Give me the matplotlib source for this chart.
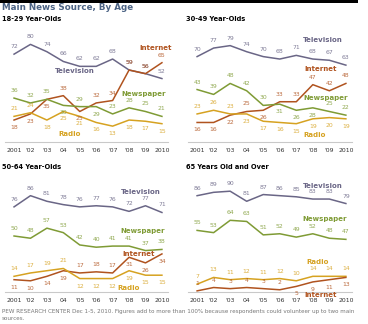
import matplotlib
matplotlib.use("Agg")
import matplotlib.pyplot as plt
from matplotlib.patches import Rectangle

years = [2001, 2002, 2003, 2004, 2005, 2006, 2007, 2008, 2009, 2010]
year_labels = ["2001", "'02", "'03", "04", "'05", "'06", "'07", "'08", "'09", "2010"]

# 18-29
tv_1829 = [72, 80, 74, 66, 62, 62, 68, 59, 56, 52]
net_1829 = [18, 23, 35, 38, 25, 32, 34, 59, 56, 65]
np_1829 = [36, 32, 35, 30, 29, 29, 23, 28, 25, 21]
radio_1829 = [21, 24, 18, 25, 21, 16, 13, 18, 17, 15]
# 30-49
tv_3049 = [70, 77, 79, 74, 70, 68, 71, 68, 67, 63]
net_3049 = [16, 16, 22, 25, 26, 33, 33, 47, 42, 48]
np_3049 = [43, 39, 48, 42, 30, 31, 26, 28, 25, 22]
radio_3049 = [23, 26, 23, 23, 17, 16, 15, 19, 20, 19]
# 50-64
tv_5064 = [76, 86, 81, 78, 76, 77, 76, 72, 77, 71]
np_5064 = [50, 48, 57, 53, 42, 40, 41, 41, 37, 38]
net_5064 = [11, 10, 14, 19, 17, 18, 17, 31, 26, 34]
radio_5064 = [14, 17, 19, 21, 12, 12, 12, 19, 15, 15]
# 65+
tv_65 = [86, 89, 90, 81, 87, 86, 85, 83, 83, 79]
np_65 = [55, 53, 64, 63, 51, 52, 49, 52, 48, 47]
radio_65 = [7, 13, 11, 12, 11, 12, 10, 14, 14, 14]
net_65 = [1, 4, 3, 4, 3, 2, 5, 9, 11, 13]

C_TV = "#6a6686"
C_NET = "#b0531f"
C_NP = "#7f9b35"
C_RADIO = "#d6a221"

# label placement: +1 above, -1 below
A = [1] * 10

panels = [
    dict(title="18-29 Year-Olds", rect=(5, 30, 163, 112), ylim=(0, 91.8), title_xy=(2, 19),
         series=[
             (tv_1829, C_TV, A, "Television", (2004.7, 58)),
             (net_1829, C_NET, [-1, -1, -1, 1, -1, 1, 1, 1, 1, 1], "Internet", (2009.6, 77)),
             (np_1829, C_NP, [1, 1, 1, -1, 1, -1, 1, 1, 1, 1], "Newspaper", (2008.9, 39)),
             (radio_1829, C_RADIO, [1, 1, -1, -1, -1, -1, -1, -1, -1, -1], "Radio", (2004.4, 6.5)),
         ]),
    dict(title="30-49 Year-Olds", rect=(188, 30, 164, 112), ylim=(0, 91.8), title_xy=(186, 19),
         series=[
             (tv_3049, C_TV, A, "Television", (2008.6, 84)),
             (net_3049, C_NET, [-1, -1, -1, 1, -1, 1, 1, 1, 1, 1], "Internet", (2008.5, 60)),
             (np_3049, C_NP, [1, 1, 1, 1, 1, -1, -1, -1, 1, 1], "Newspaper", (2008.8, 36)),
             (radio_3049, C_RADIO, [1, 1, 1, -1, -1, -1, -1, -1, -1, -1], "Radio", (2008.1, 6)),
         ]),
    dict(title="50-64 Year-Olds", rect=(5, 180, 163, 112), ylim=(0, 100), title_xy=(2, 167),
         series=[
             (tv_5064, C_TV, A, "Television", (2008.7, 89)),
             (np_5064, C_NP, A, "Newspaper", (2008.8, 54.5)),
             (net_5064, C_NET, [-1, -1, -1, -1, 1, 1, 1, -1, -1, -1], "Internet", (2008.6, 34)),
             (radio_5064, C_RADIO, [1, 1, 1, 1, -1, -1, -1, -1, -1, -1], "Radio", (2008.0, 3.5)),
         ]),
    dict(title="65 Years Old and Over", rect=(188, 180, 164, 112), ylim=(0, 100), title_xy=(186, 167),
         series=[
             (tv_65, C_TV, A, "Television", (2008.6, 95)),
             (np_65, C_NP, A, "Newspaper", (2008.7, 65)),
             (radio_65, C_RADIO, A, "Radio", (2008.3, 27)),
             (net_65, C_NET, [1, 1, 1, 1, 1, 1, -1, -1, -1, -1], "Internet", (2008.5, -2.5)),
         ]),
]

W, H = 368, 324
fig = plt.figure(figsize=(W / 100, H / 100), dpi=100)
fig.patch.set_facecolor("white")

# top black bar
fig.add_artist(Rectangle((0, 1 - 2.5 / H), 358 / W, 2.5 / H, transform=fig.transFigure,
                         facecolor="black", edgecolor="none"))

fig.text(2 / W, 1 - 8 / H, "Main News Source, By Age", fontsize=6.3, fontweight="bold",
         color="#4c6384", va="center", ha="left")

for p in panels:
    x0, yt, w, h = p["rect"]
    ax = fig.add_axes([x0 / W, 1 - (yt + h) / H, w / W, h / H])
    ax.set_xlim(2000.45, 2010.37)
    ax.set_ylim(*p["ylim"])
    ax.patch.set_alpha(0)
    for s in ["top", "right", "left"]:
        ax.spines[s].set_visible(False)
    ax.spines["bottom"].set_color("#c9c9c9")
    ax.spines["bottom"].set_linewidth(0.8)
    ax.set_yticks([])
    ax.set_xticks(years)
    ax.set_xticklabels(year_labels, fontsize=4.4, color="#333333")
    ax.tick_params(axis="x", length=0, pad=4.5)
    fig.text(p["title_xy"][0] / W, 1 - p["title_xy"][1] / H, p["title"], fontsize=4.8,
             fontweight="bold", color="black", va="center", ha="left")
    pxu = h / (p["ylim"][1] - p["ylim"][0])
    off_units = 7.5 / pxu
    for vals, col, pos, name, (lx, ly) in p["series"]:
        ax.plot(years, vals, color=col, lw=1.1, clip_on=False, solid_joinstyle="round")
        for xv, yv, d in zip(years, vals, pos):
            ax.text(xv, yv + d * off_units, str(yv), fontsize=4.4, color=col, alpha=0.85,
                    ha="center", va="center", clip_on=False)
        ax.text(lx, ly, name, fontsize=5, fontweight="bold", color=col, ha="center",
                va="center", clip_on=False)

fig.text(2 / W, 1 - 312 / H,
         "PEW RESEARCH CENTER Dec 1-5, 2010. Figures add to more than 100% because respondents could volunteer up to two main",
         fontsize=4.1, color="#777777", va="center", ha="left")
fig.text(2 / W, 1 - 318.5 / H, "sources.", fontsize=4.1, color="#777777", va="center", ha="left")

fig.savefig("out.png", dpi=100, facecolor="white")
